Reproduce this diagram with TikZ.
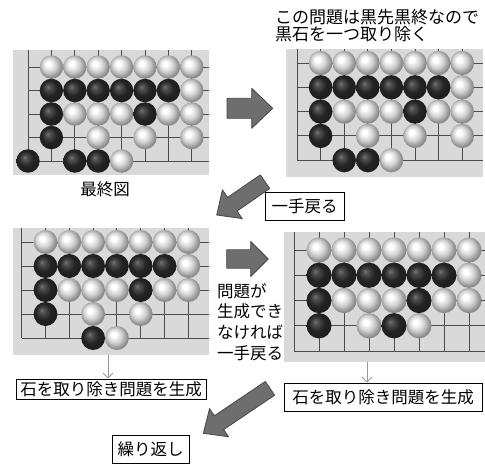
\documentclass[tikz,border=0pt]{standalone}
\usepackage{fontspec}
\setmainfont{Noto Sans CJK JP}
\usetikzlibrary{calc, arrows.meta}

% stone shadings, light from the upper left
\pgfdeclareradialshading{whitestone}{\pgfqpoint{-8bp}{8bp}}{%
  color(0bp)=(white); color(5bp)=(white); color(15bp)=(black!18);
  color(25bp)=(black!45); color(40bp)=(black!58)}
\pgfdeclareradialshading{blackstone}{\pgfqpoint{-8bp}{8bp}}{%
  color(0bp)=(black!55); color(6bp)=(black!70); color(16bp)=(black!86);
  color(40bp)=(black!92)}

\tikzset{
  board/.style={fill=gray!30, inner sep=0pt},
  gridline/.style={draw=black!70, line width=0.9pt},
  wstone/.style={shading=whitestone},
  bstone/.style={shading=blackstone},
  caption/.style={inner sep=0pt, font=\fontsize{16.5}{20.8}\selectfont},
  stepbox/.style={draw, fill=white, line width=0.8pt, inner sep=0pt,
    font=\fontsize{16.5}{20}\selectfont},
  bigarrow/.style={fill=black!57, draw=black!72, line width=0.8pt, line join=round},
  thinarrow/.style={draw=black!40, line width=0.8pt,
    -{Straight Barb[length=5pt, width=10pt]}}
}

% lines of the board node #1, drawn in board units
\newcommand{\goboard}[1]{%
  \foreach \c in {0,...,7} \draw[gridline] (\c,4) -- (\c,4 |- #1.north);
  \foreach \r in {0,...,4} \draw[gridline] (0,\r) -- (#1.east |- 0,\r);
}

% block arrow: tail, tip, half shaft, half head, head length
\newcommand{\blockarrow}[5]{%
  \coordinate (hb) at ($(#2)!#5!(#1)$);
  \filldraw[bigarrow] ($(#1)!#3!90:(#2)$) -- ($(hb)!#3!90:(#2)$)
    -- ($(hb)!#4!90:(#2)$) -- (#2) -- ($(hb)!#4!-90:(#2)$)
    -- ($(hb)!#3!-90:(#2)$) -- ($(#1)!#3!-90:(#2)$) -- cycle;
}

\begin{document}
\begin{tikzpicture}[x=1pt, y=-1pt]
\useasboundingbox (0,0) rectangle (485,464);

% final position
\node[board, minimum width=196pt, minimum height=125pt] (b1) at (111,112.5) {};
\begin{scope}[shift={(28,67)}, x=23.4pt, y=-23.5pt]
  \goboard{b1}
  \foreach \c/\r in {1/0,2/0,3/0,4/0,5/0,6/0,7/0,7/1,2/2,3/2,4/2,6/2,7/2,3/3,5/3,7/3,4/4}
    \shade[wstone] (\c,\r) circle[radius=0.5];
  \foreach \c/\r in {1/1,2/1,3/1,4/1,5/1,6/1,1/2,5/2,1/3,0/4,2/4,3/4}
    \shade[bstone] (\c,\r) circle[radius=0.5];
\end{scope}
\node[caption] (final) at (105,189) {最終図};

% one black stone taken off
\node[board, minimum width=197pt, minimum height=128pt] (b2) at (384.5,113) {};
\begin{scope}[shift={(297,63)}, x=23.6pt, y=-24.3pt]
  \goboard{b2}
  \foreach \c/\r in {1/0,2/0,3/0,4/0,5/0,6/0,7/0,7/1,2/2,3/2,4/2,6/2,7/2,3/3,5/3,7/3,4/4}
    \shade[wstone] (\c,\r) circle[radius=0.5];
  \foreach \c/\r in {1/1,2/1,3/1,4/1,5/1,6/1,1/2,5/2,1/3,2/4,3/4}
    \shade[bstone] (\c,\r) circle[radius=0.5];
\end{scope}
\node[caption, anchor=north west, align=left, font=\fontsize{17}{17.5}\selectfont]
  (note) at (275,9) {この問題は黒先黒終なので\\黒石を一つ取り除く};

% one move back
\node[board, minimum width=196pt, minimum height=127pt] (b3) at (111,291.5) {};
\begin{scope}[shift={(21.7,242)}, x=23.8pt, y=-24pt]
  \goboard{b3}
  \foreach \c/\r in {1/0,2/0,3/0,4/0,5/0,6/0,7/0,7/1,2/2,3/2,4/2,6/2,7/2,3/3,5/3,4/4}
    \shade[wstone] (\c,\r) circle[radius=0.5];
  \foreach \c/\r in {1/1,2/1,3/1,4/1,5/1,6/1,1/2,5/2,1/3,3/4}
    \shade[bstone] (\c,\r) circle[radius=0.5];
\end{scope}

% two moves back
\node[board, minimum width=201pt, minimum height=130pt] (b4) at (384.5,297) {};
\begin{scope}[shift={(294,250)}, x=25pt, y=-25.25pt]
  \goboard{b4}
  \foreach \c/\r in {1/0,2/0,3/0,4/0,5/0,6/0,7/0,7/1,2/2,3/2,4/2,6/2,7/2,3/3,5/3}
    \shade[wstone] (\c,\r) circle[radius=0.5];
  \foreach \c/\r in {1/1,2/1,3/1,4/1,5/1,6/1,1/2,5/2,1/3,4/3}
    \shade[bstone] (\c,\r) circle[radius=0.5];
\end{scope}
\node[caption, anchor=north west, align=left] (cond) at (217,283)
  {問題が\\生成でき\\なければ\\一手戻る};

% big arrows
\coordinate (a1t) at (227,108.3);   \coordinate (a1h) at (272.7,108.3);
\coordinate (a2t) at (265,181.7);   \coordinate (a2h) at (216.7,215);
\coordinate (a3t) at (226.7,259);   \coordinate (a3h) at (268.3,259);
\coordinate (a4t) at (270,388.3);   \coordinate (a4h) at (203.3,433.3);
\blockarrow{a1t}{a1h}{10pt}{20pt}{21pt}
\blockarrow{a2t}{a2h}{8.3pt}{17.5pt}{19pt}
\blockarrow{a3t}{a3h}{9.2pt}{17.5pt}{17.6pt}
\blockarrow{a4t}{a4h}{8.3pt}{17pt}{19pt}

% steps
\node[stepbox, minimum width=79pt, minimum height=28pt] (back) at (304.5,206) {一手戻る};
\node[stepbox, minimum width=190pt, minimum height=20pt] (gen1) at (111,389) {石を取り除き問題を生成};
\node[stepbox, minimum width=198pt, minimum height=28pt] (gen2) at (383,397) {石を取り除き問題を生成};
\node[stepbox, minimum width=77pt, minimum height=28pt] (again) at (150.5,449) {繰り返し};

\draw[thinarrow] ([xshift=-3pt]b3.south) -- ([xshift=-3pt]gen1.north);
\draw[thinarrow] ([xshift=-17.5pt]b4.south) -- ([xshift=-16pt]gen2.north);
\end{tikzpicture}
\end{document}
